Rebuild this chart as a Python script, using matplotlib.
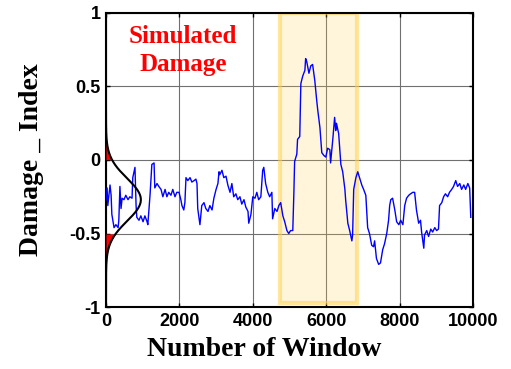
import numpy as np
import matplotlib
matplotlib.use("Agg")
import matplotlib.pyplot as plt
from matplotlib.patches import Rectangle

# damage index per window
windows = [0, 30, 50, 110, 140, 160, 220, 270, 330, 350, 380, 410, 440, 490, 540, 600, 650, 710,
           730, 790, 820, 840, 900, 950, 1010, 1060, 1120, 1140, 1200, 1250, 1310, 1330, 1390, 1440,
           1500, 1550, 1610, 1660, 1710, 1770, 1820, 1880, 1930, 1990, 2040, 2070, 2120, 2150, 2180,
           2230, 2290, 2340, 2400, 2450, 2480, 2500, 2560, 2610, 2670, 2720, 2780, 2830, 2890, 2940,
           3000, 3050, 3080, 3100, 3160, 3210, 3270, 3320, 3380, 3430, 3480, 3540, 3590, 3650, 3700,
           3760, 3810, 3870, 3890, 3950, 4000, 4060, 4110, 4160, 4220, 4270, 4300, 4350, 4410, 4460,
           4520, 4540, 4600, 4660, 4710, 4760, 4820, 4870, 4930, 4980, 5030, 5090, 5120, 5140, 5200,
           5220, 5280, 5310, 5360, 5420, 5440, 5470, 5500, 5530, 5580, 5630, 5690, 5740, 5770, 5830,
           5880, 5940, 5990, 6040, 6100, 6120, 6180, 6230, 6260, 6280, 6340, 6400, 6450, 6510, 6530,
           6590, 6640, 6700, 6720, 6750, 6810, 6860, 6910, 6970, 7020, 7080, 7130, 7180, 7240, 7290,
           7320, 7370, 7430, 7480, 7540, 7590, 7650, 7700, 7730, 7760, 7810, 7870, 7920, 7980, 8030,
           8090, 8140, 8190, 8250, 8300, 8360, 8410, 8460, 8520, 8570, 8600, 8660, 8680, 8740, 8790,
           8850, 8900, 8960, 9010, 9060, 9090, 9150, 9200, 9250, 9310, 9360, 9420, 9470, 9530, 9580,
           9640, 9690, 9750, 9800, 9860, 9910, 9940]
damage = [-0.27, -0.19, -0.31, -0.17, -0.24, -0.37, -0.46, -0.44, -0.46, -0.41, -0.18, -0.33, -0.26,
          -0.27, -0.24, -0.27, -0.25, -0.26, -0.12, -0.05, -0.31, -0.39, -0.41, -0.38, -0.42, -0.38,
          -0.42, -0.44, -0.24, -0.03, -0.02, -0.19, -0.16, -0.18, -0.20, -0.25, -0.20, -0.25, -0.22,
          -0.24, -0.20, -0.25, -0.22, -0.22, -0.27, -0.31, -0.34, -0.29, -0.12, -0.14, -0.12, -0.15,
          -0.14, -0.13, -0.16, -0.33, -0.44, -0.31, -0.29, -0.33, -0.35, -0.31, -0.34, -0.26, -0.20,
          -0.16, -0.08, -0.10, -0.07, -0.12, -0.11, -0.17, -0.22, -0.16, -0.25, -0.23, -0.27, -0.25,
          -0.30, -0.27, -0.32, -0.35, -0.43, -0.37, -0.25, -0.26, -0.22, -0.27, -0.25, -0.07, -0.05,
          -0.16, -0.22, -0.25, -0.22, -0.40, -0.33, -0.35, -0.31, -0.29, -0.38, -0.42, -0.48, -0.50,
          -0.48, -0.48, -0.22, -0.01, 0.04, 0.14, 0.16, 0.52, 0.57, 0.61, 0.69, 0.67, 0.63, 0.59,
          0.64, 0.65, 0.54, 0.41, 0.34, 0.22, 0.05, 0.03, 0.02, 0.08, 0.07, -0.02, 0.14, 0.29, 0.20,
          0.25, 0.18, -0.03, -0.08, -0.20, -0.27, -0.43, -0.48, -0.55, -0.51, -0.20, -0.12, -0.08,
          -0.12, -0.17, -0.20, -0.24, -0.46, -0.50, -0.58, -0.59, -0.55, -0.67, -0.71, -0.70, -0.61,
          -0.57, -0.50, -0.41, -0.31, -0.27, -0.26, -0.34, -0.42, -0.44, -0.41, -0.44, -0.31, -0.26,
          -0.24, -0.23, -0.22, -0.22, -0.34, -0.43, -0.41, -0.49, -0.60, -0.51, -0.48, -0.52, -0.47,
          -0.49, -0.46, -0.48, -0.47, -0.31, -0.29, -0.25, -0.23, -0.25, -0.22, -0.20, -0.18, -0.14,
          -0.18, -0.16, -0.20, -0.17, -0.20, -0.16, -0.19, -0.39]

# damaged zone and normal fit of the healthy part
damage_start, damage_end = 4750, 6850
fit_mean, fit_std, fit_peak = -0.27, 0.145, 950
lower_limit, upper_limit = -0.5, 0.0

xticks = [0, 2000, 4000, 6000, 8000, 10000]
yticks = [-1, -0.5, 0, 0.5, 1]
ytick_labels = ["-1", "-0.5", "0", "0.5", "1"]

fig = plt.figure(figsize=(5.11, 3.69), dpi=100)
ax = fig.add_axes([0.2074, 0.168, 0.7182, 0.7968])

ax.add_patch(Rectangle((damage_start, -0.97), damage_end - damage_start, 1.97,
                       facecolor=(1.0, 0.82, 0.3, 0.2), edgecolor=(1.0, 0.82, 0.3, 0.55),
                       linewidth=3, zorder=1))

ax.plot(windows, damage, color="#0000FF", linewidth=1.0, zorder=3)

# bell curve on the left side
yy = np.linspace(-1, 1, 400)
curve = fit_peak * np.exp(-0.5 * ((yy - fit_mean) / fit_std) ** 2)
ax.fill_betweenx(yy, 0, curve, where=yy >= upper_limit, color="#FF0000", zorder=4, linewidth=0)
ax.fill_betweenx(yy, 0, curve, where=yy <= lower_limit, color="#FF0000", zorder=4, linewidth=0)
ax.plot(curve, yy, color="black", linewidth=1.5, zorder=5)

ax.text(2100, 0.745, "Simulated\nDamage", color="red", fontsize=18, fontweight="bold",
        family="Liberation Serif", ha="center", va="center", linespacing=1.3, zorder=6)

ax.set_xlim(0, 10000)
ax.set_ylim(-1, 1)
ax.set_xticks(xticks)
ax.set_yticks(yticks)
ax.set_yticklabels(ytick_labels)
ax.grid(True, color="#707070", linewidth=0.8, zorder=0)
ax.set_axisbelow(True)
ax.tick_params(direction="in", top=True, right=True, length=3, width=1, pad=4)
for lab in ax.get_xticklabels() + ax.get_yticklabels():
    lab.set_fontfamily("Liberation Sans")
    lab.set_fontweight("bold")
    lab.set_fontsize(13)
for sp in ax.spines.values():
    sp.set_linewidth(1.5)

ax.set_xlabel("Number of Window", fontsize=20, fontweight="bold", family="Liberation Serif")
ax.set_ylabel("Damage _ Index", fontsize=20, fontweight="bold", family="Liberation Serif")
ax.xaxis.set_label_coords(0.43, -0.102)
ax.yaxis.set_label_coords(-0.17, 0.5)

fig.savefig("out.png", dpi=100)
